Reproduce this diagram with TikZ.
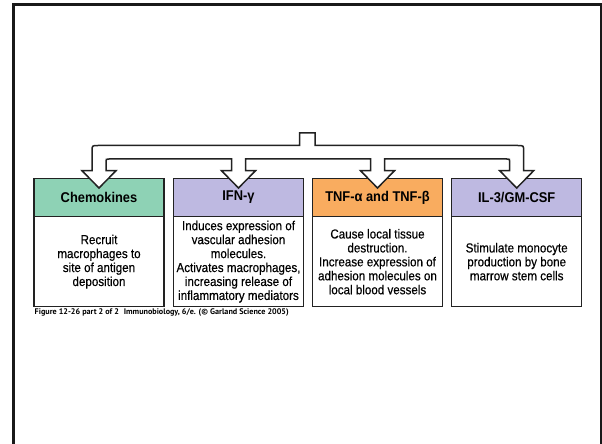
\documentclass[tikz,border=0pt]{standalone}
\usepackage{fontspec}
\setmainfont{Liberation Sans}
\newfontfamily\bodyfont[FakeStretch=0.89,FakeBold=0.35]{Liberation Sans}
\newfontfamily\hdrfont[FakeStretch=0.91]{Liberation Sans}
\newfontfamily\capfont{PT Sans}
\definecolor{chemgreen}{HTML}{8ED2B5}
\definecolor{lav}{HTML}{BEB9E1}
\definecolor{orng}{HTML}{F9AC5F}
\definecolor{ink}{HTML}{222222}
\begin{document}
\begin{tikzpicture}[x=1bp,y=-1bp,
  hdr/.style={draw=ink, line width=1.4bp, minimum width=130bp, minimum height=38.4bp, inner sep=0pt,
    font=\hdrfont\bfseries\fontsize{14.2}{16}\selectfont},
  bodybox/.style={draw=ink, line width=1.4bp, fill=white, minimum width=130bp, minimum height=90bp, inner sep=0pt,
    align=center, font=\bodyfont\fontsize{13.1}{14}\selectfont},
  tube/.style={draw=ink, fill=white, line width=1.5bp, line join=miter}]
\useasboundingbox (0,0) rectangle (602,444);
\draw[line width=2.6bp, draw=black!90] (13.5,4.5) rectangle (601,460);

% boxes
\node[bodybox] (b1) at (99,261.7) {Recruit\\macrophages to\\site of antigen\\deposition};
\node[bodybox] (b2) at (238.5,261.7) {Induces expression of\\vascular adhesion\\molecules.\\Activates macrophages,\\increasing release of\\inflammatory mediators};
\node[bodybox] (b3) at (377.5,261.7) {Cause local tissue\\destruction.\\Increase expression of\\adhesion molecules on\\local blood vessels};
\node[bodybox] (b4) at (516.7,261.7) {Stimulate monocyte\\production by bone\\marrow stem cells};

\node[hdr, fill=chemgreen] (h1) at (99,197.5) {Chemokines};
\node[hdr, fill=lav] (h2) at (238.5,197.5) {IFN-γ};
\node[hdr, fill=orng] (h3) at (377.5,197.5) {TNF-α and TNF-β};
\node[hdr, fill=lav] (h4) at (516.7,197.5) {IL-3/GM-CSF};

% branching hollow arrow
\draw[tube] (299.5,145.5) -- (299.5,133) -- (315,133) -- (315,145.5) -- (517.7,145.5)
  .. controls (523.7,145.5) .. (523.7,151.5) -- (523.7,170.7) -- (533.7,170.7) -- (516.7,188)
  -- (499.7,170.7) -- (509.7,170.7) -- (509.7,162) .. controls (509.7,159) .. (506.7,159)
  -- (384.5,159) -- (384.5,170.7) -- (394.5,170.7) -- (377.5,188) -- (360.5,170.7) -- (370.5,170.7)
  -- (370.5,159) -- (245.5,159) -- (245.5,170.7) -- (255.5,170.7) -- (238.5,188) -- (221.5,170.7)
  -- (231.5,170.7) -- (231.5,159) -- (109,159) .. controls (106,159) .. (106,162) -- (106,170.7)
  -- (116,170.7) -- (99,188) -- (82,170.7) -- (92,170.7) -- (92,151.5) .. controls (92,145.5) .. (98,145.5)
  -- cycle;

% caption
\node[anchor=west, inner sep=0pt] (cap) at (34.5,312.3)
  {\resizebox{254bp}{!}{\capfont\bfseries Figure 12-26 part 2 of 2\hspace{0.6em}Immunobiology, 6/e. (© Garland Science 2005)}};
\end{tikzpicture}
\end{document}
